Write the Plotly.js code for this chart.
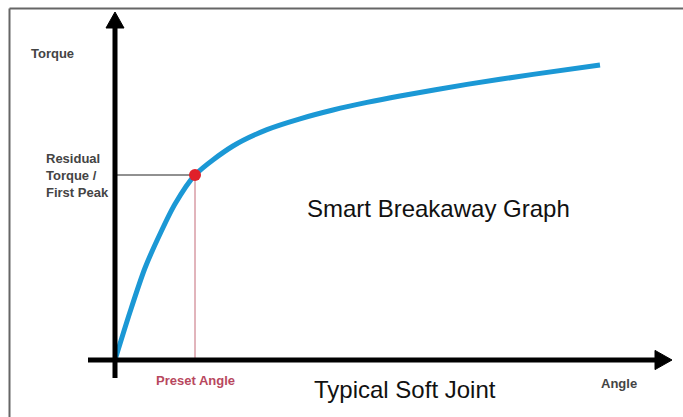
<!DOCTYPE html>
<html>
<head>
<meta charset="utf-8">
<script src="https://cdn.plot.ly/plotly-3.0.1.min.js"></script>
<style>html,body{margin:0;padding:0;background:#fff;}#chart{width:683px;height:417px;}</style>
</head>
<body>
<div id="chart"></div>
<script>
// Smart Breakaway Graph - Typical Soft Joint (arbitrary units)
const angle  = [0, 3, 6, 9, 12, 16, 23.6, 30.4, 37, 43.6, 50.4, 57, 70.4, 83.6, 97];
const torque = [0, 12, 23, 31.5, 39, 46.25, 53.5, 57.6, 60.3, 62.5, 64.4, 66, 68.9, 71.4, 73.75];
const presetAngle = 16;
const residualTorque = 46.25;
const labels = {
  yTitle: 'Torque',
  xTitle: 'Angle',
  peak: 'Residual<br>Torque /<br>First Peak',
  preset: 'Preset Angle',
  title: 'Smart Breakaway Graph',
  subtitle: 'Typical Soft Joint'
};

const traces = [
  {x: [0, presetAngle], y: [residualTorque, residualTorque], mode: 'lines',
   line: {color: '#222', width: 1}, hoverinfo: 'skip'},
  {x: [presetAngle, presetAngle], y: [residualTorque, 0], mode: 'lines',
   line: {color: '#c46a78', width: 1}, hoverinfo: 'skip'},
  {x: angle, y: torque, mode: 'lines',
   line: {color: '#1b98d5', width: 5, shape: 'spline', smoothing: 0.8}},
  {x: [presetAngle], y: [residualTorque], mode: 'markers',
   marker: {color: '#e0202a', size: 12}}
];

const boldFont = {family: 'Liberation Sans, Arial, sans-serif', size: 13, color: '#444'};
const bigFont = {family: 'Liberation Sans, Arial, sans-serif', size: 24, color: '#111'};
const layout = {
  width: 683, height: 417,
  margin: {l: 0, r: 0, t: 0, b: 0},
  paper_bgcolor: '#fff', plot_bgcolor: '#fff',
  showlegend: false,
  xaxis: {range: [-23, 113.6], visible: false, fixedrange: true},
  yaxis: {range: [-14.25, 90], visible: false, fixedrange: true},
  shapes: [
    // frame
    {type: 'line', xref: 'paper', yref: 'paper', x0: 9.5/683, x1: 1.02, y0: 1 - 8.5/417, y1: 1 - 8.5/417, line: {color: '#666', width: 2}},
    {type: 'line', xref: 'paper', yref: 'paper', x0: 9.5/683, x1: 9.5/683, y0: -0.02, y1: 1 - 8.5/417, line: {color: '#666', width: 2}},
    // x axis
    {type: 'line', x0: -5.4, x1: 108.5, y0: 0, y1: 0, line: {color: '#000', width: 5}},
    {type: 'path', path: 'M 108 2.4 L 111.4 0 L 108 -2.4 Z', fillcolor: '#000', line: {color: '#000', width: 1}},
    // y axis
    {type: 'line', x0: 0, x1: 0, y0: -4.5, y1: 83.5, line: {color: '#000', width: 5}},
    {type: 'path', path: 'M -1.8 83 L 0 87 L 1.8 83 Z', fillcolor: '#000', line: {color: '#000', width: 1}}
  ],
  annotations: [
    {x: -12.6, y: 76.75, text: '<b>' + labels.yTitle + '</b>', showarrow: false, font: boldFont},
    {x: -14.2, y: 46.25, text: '<b>' + labels.peak + '</b>', showarrow: false, align: 'left', xanchor: 'left', font: boldFont},
    {x: 16, y: -5, text: '<b>' + labels.preset + '</b>', showarrow: false, font: Object.assign({}, boldFont, {color: '#b8485e'})},
    {x: 100.8, y: -5.75, text: '<b>' + labels.xTitle + '</b>', showarrow: false, font: boldFont},
    {x: 38, y: 38, text: labels.title, showarrow: false, xanchor: 'left', font: bigFont},
    {x: 39.4, y: -7.25, text: labels.subtitle, showarrow: false, xanchor: 'left', font: bigFont}
  ]
};

Plotly.newPlot('chart', traces, layout, {displayModeBar: false, staticPlot: true});
</script>
</body>
</html>
